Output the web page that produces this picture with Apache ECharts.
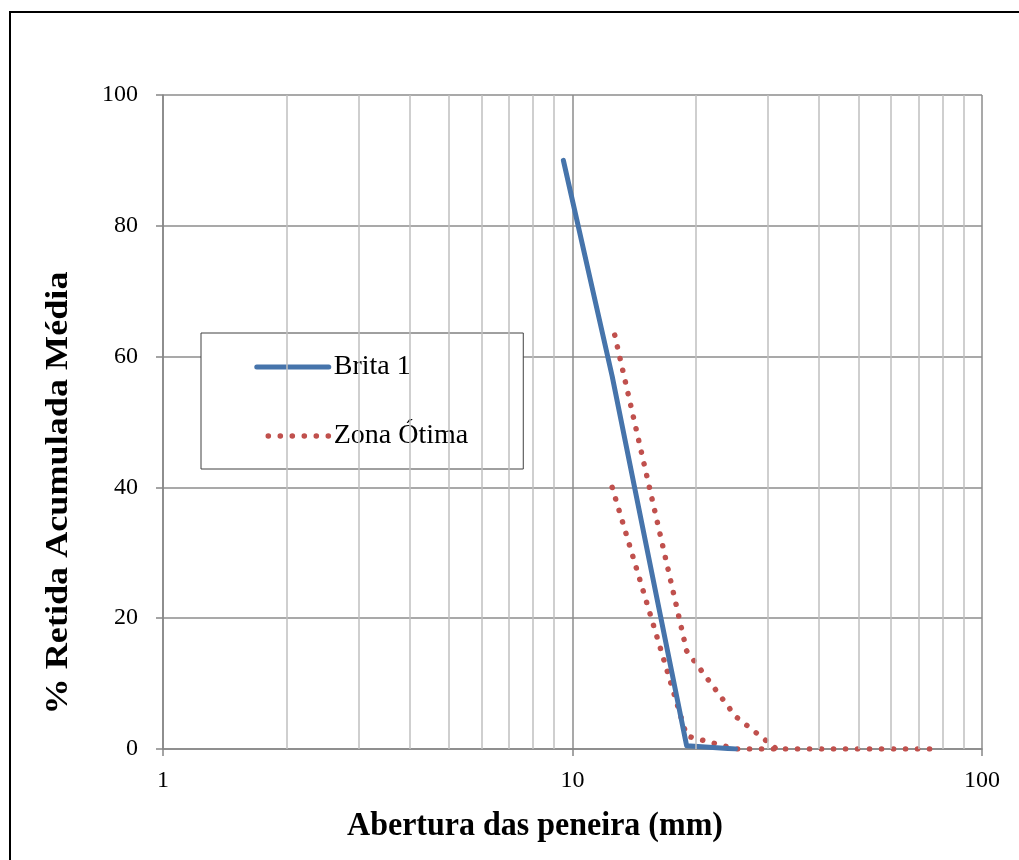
<!DOCTYPE html>
<html>
<head>
<meta charset="utf-8">
<script src="https://cdn.jsdelivr.net/npm/echarts@6/dist/echarts.min.js"></script>
<style>
html,body{margin:0;padding:0;background:#fff;}
#chart{width:1019px;height:860px;}
</style>
</head>
<body>
<div id="chart"></div>
<script>
// Sieve openings (mm) and cumulative retained (%)
const britaX = [9.5, 12.5, 19, 25];
const britaY = [90, 57, 0.5, 0];
const upperX = [12.5, 19, 25, 31.5];
const upperY = [65, 15, 5, 0];
const lowerX = [12.5, 19, 25, 31.5, 37.5, 50, 63, 75];
const lowerY = [40, 2, 0, 0, 0, 0, 0, 0];
const minorGrid = [2, 3, 4, 5, 6, 7, 8, 9, 20, 30, 40, 50, 60, 70, 80, 90];
const yTicks = [0, 20, 40, 60, 80, 100];

const FONT = '"Liberation Serif", "Times New Roman", serif';
const BLUE = '#4674AB';
const RED = '#C0504D';
const DOTS = [0.1, 11.9];
const pairs = (xs, ys) => xs.map((x, i) => [x, ys[i]]);

const chart = echarts.init(document.getElementById('chart'), null, {renderer: 'canvas'});
chart.setOption({
  animation: false,
  backgroundColor: '#fff',
  grid: {left: 163, right: 37, top: 95, bottom: 111, containLabel: false, outerBoundsMode: 'none'},
  xAxis: {
    type: 'log', logBase: 10, min: 1, max: 100,
    axisLine: {show: true, lineStyle: {color: '#868686', width: 1.5}},
    axisTick: {show: true, length: 7, lineStyle: {color: '#868686', width: 1.5}},
    axisLabel: {margin: 20, fontFamily: FONT, fontSize: 24, color: '#000'},
    splitLine: {show: true, lineStyle: {color: '#8c8c8c', width: 1.5}},
    minorTick: {show: false}, minorSplitLine: {show: false}
  },
  yAxis: {
    type: 'value', min: yTicks[0], max: yTicks[yTicks.length - 1], interval: 20,
    axisLine: {show: true, lineStyle: {color: '#868686', width: 1.5}},
    axisTick: {show: true, length: 7, lineStyle: {color: '#868686', width: 1.5}},
    axisLabel: {margin: 25, fontFamily: FONT, fontSize: 24, color: '#000'},
    splitLine: {show: true, lineStyle: {color: '#8c8c8c', width: 1.5}}
  },
  legend: {
    orient: 'vertical', left: 201, top: 333,
    padding: [20, 55, 19, 53], itemGap: 41, itemWidth: 72, itemHeight: 28,
    backgroundColor: '#fff', borderColor: '#404040', borderWidth: 1,
    textStyle: {fontFamily: FONT, fontSize: 28, color: '#000'},
    itemStyle: {opacity: 0},
    data: [
      {name: 'Brita 1', itemStyle: {opacity: 0},
       lineStyle: {color: BLUE, width: 5, type: 'solid', cap: 'round'}},
      {name: 'Zona Ótima', itemStyle: {opacity: 0},
       lineStyle: {color: RED, width: 5.5, type: DOTS, cap: 'round'}}
    ],
    selectedMode: false
  },
  series: [
    {
      name: '_minor', type: 'line', data: [], silent: true, z: 1,
      markLine: {
        silent: true, symbol: ['none', 'none'], animation: false,
        label: {show: false},
        lineStyle: {color: '#bfbfbf', width: 1.5, type: 'solid'},
        emphasis: {disabled: true},
        data: minorGrid.map(v => ({xAxis: v}))
      }
    },
    {
      name: 'Brita 1', type: 'line', data: pairs(britaX, britaY), z: 4,
      showSymbol: false, symbol: 'none',
      lineStyle: {color: BLUE, width: 5, cap: 'round', join: 'round'},
      itemStyle: {color: BLUE}
    },
    {
      name: 'Zona Ótima', type: 'line', data: pairs(upperX, upperY), z: 3,
      showSymbol: false, symbol: 'none',
      lineStyle: {color: RED, width: 5.5, type: DOTS, cap: 'round', join: 'round', dashOffset: 0.5},
      itemStyle: {color: RED}
    },
    {
      name: 'Zona Ótima', type: 'line', data: pairs(lowerX, lowerY), z: 3,
      showSymbol: false, symbol: 'none',
      lineStyle: {color: RED, width: 5.5, type: DOTS, cap: 'round', join: 'round'},
      itemStyle: {color: RED}
    }
  ],
  graphic: [
    {
      type: 'rect', z: 100, silent: true,
      shape: {x: 10, y: 12, width: 1040, height: 900},
      style: {fill: 'none', stroke: '#000', lineWidth: 2}
    },
    {
      type: 'text', z: 100, silent: true,
      x: 535, y: 826, scaleY: 1.08,
      style: {text: 'Abertura das peneira (mm)', font: 'bold 32px ' + FONT, fill: '#000',
              align: 'center', verticalAlign: 'middle', textAlign: 'center', textVerticalAlign: 'middle'}
    },
    {
      type: 'text', z: 100, silent: true,
      x: 59, y: 493, rotation: Math.PI / 2, scaleX: 1.13,
      style: {text: '% Retida Acumulada Média', font: 'bold 32px ' + FONT, fill: '#000',
              align: 'center', verticalAlign: 'middle', textAlign: 'center', textVerticalAlign: 'middle'}
    }
  ]
});
</script>
</body>
</html>
